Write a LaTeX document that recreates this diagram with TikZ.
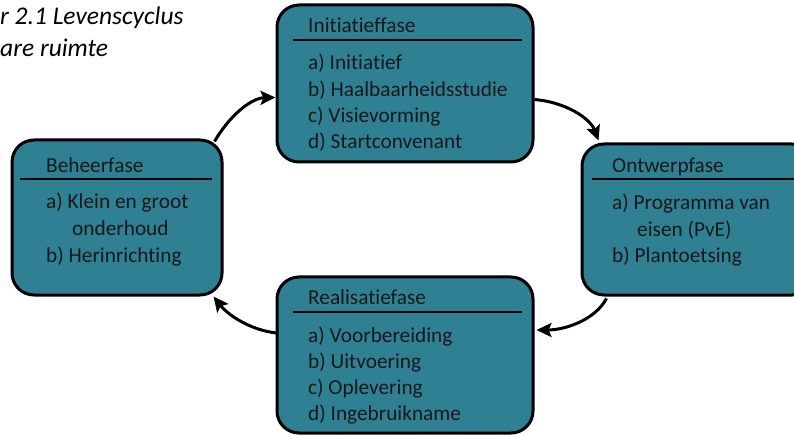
\documentclass[tikz,border=0pt]{standalone}
\usepackage{fontspec}
\setmainfont{Carlito}[Ligatures=NoCommon]
\usetikzlibrary{arrows.meta,calc}
\definecolor{phase}{RGB}{47,128,147}
\tikzset{
  phasebox/.style={draw=black, line width=3pt, fill=phase, rounded corners=22pt, inner sep=0pt},
  txt/.style={anchor=base west, inner sep=0pt, font=\fontsize{21.3}{25}\selectfont, text=black!90},
  ttl/.style={anchor=base west, inner sep=0pt, font=\fontsize{25.5}{30}\selectfont\itshape},
  divider/.style={line width=1.2pt},
  cyc/.style={line width=3pt, -{Stealth[length=15pt,width=14pt,inset=3pt]}}
}
\begin{document}
\begin{tikzpicture}[x=1pt,y=-1pt]
\useasboundingbox (0,0) rectangle (794,435);
% title
\node[ttl] (t1) at (0,25) {r 2.1 Levenscyclus};
\node[ttl] (t2) at (0,57) {are ruimte};
% boxes
\node[phasebox, minimum width=256pt, minimum height=157pt] (init) at (405,83.5) {};
\node[phasebox, minimum width=232pt, minimum height=151pt] (ontw) at (698,219.5) {};
\node[phasebox, minimum width=210pt, minimum height=155pt] (beheer) at (117,217.5) {};
\node[phasebox, minimum width=256pt, minimum height=156pt] (real) at (405,355) {};
% dividers
\draw[divider] (293,40) -- (522,40);
\draw[divider] (592,179) -- (800,179);
\draw[divider] (20,179) -- (212,179);
\draw[divider] (293,312) -- (522,312);
% texts init
\node[txt] (ih) at (308,33) {Initiatieffase};
\node[txt] (ia) at (308,70) {a) Initiatief};
\node[txt] (ib) at (308,97) {b) Haalbaarheidsstudie};
\node[txt] (ic) at (308,123) {c) Visievorming};
\node[txt] (id) at (308,149) {d) Startconvenant};
% texts ontwerp
\node[txt] (oh) at (612,173) {Ontwerpfase};
\node[txt] (oa) at (612,210) {a) Programma van};
\node[txt] (oa2) at (637,237) {eisen (PvE)};
\node[txt] (ob) at (612,263) {b) Plantoetsing};
% texts beheer
\node[txt] (bh) at (46,173) {Beheerfase};
\node[txt] (ba) at (46,209) {a) Klein en groot};
\node[txt] (ba2) at (72,236) {onderhoud};
\node[txt] (bb) at (46,263) {b) Herinrichting};
% texts realisatie
\node[txt] (rh) at (308,305) {Realisatiefase};
\node[txt] (ra) at (308,342) {a) Voorbereiding};
\node[txt] (rb) at (308,368) {b) Uitvoering};
\node[txt] (rc) at (308,394) {c) Oplevering};
\node[txt] (rd) at (308,420) {d) Ingebruikname};
% cycle arrows
\draw[cyc] ($(beheer.north east)+(-9,3)$) .. controls (228,118) and (250,98) .. ($(init.west)+(0,14)$);
\draw[cyc] ($(init.east)+(0,16)$) .. controls (565,102) and (590,118) .. ($(ontw.north west)+(18,-2)$);
\draw[cyc] ($(ontw.south west)+(26,2)$) .. controls (595,320) and (565,330) .. ($(real.east)+(2,-25)$);
\draw[cyc] ($(real.west)+(1,-22)$) .. controls (250,330) and (228,315) .. ($(beheer.south east)+(-10,0)$);
\end{tikzpicture}
\end{document}
